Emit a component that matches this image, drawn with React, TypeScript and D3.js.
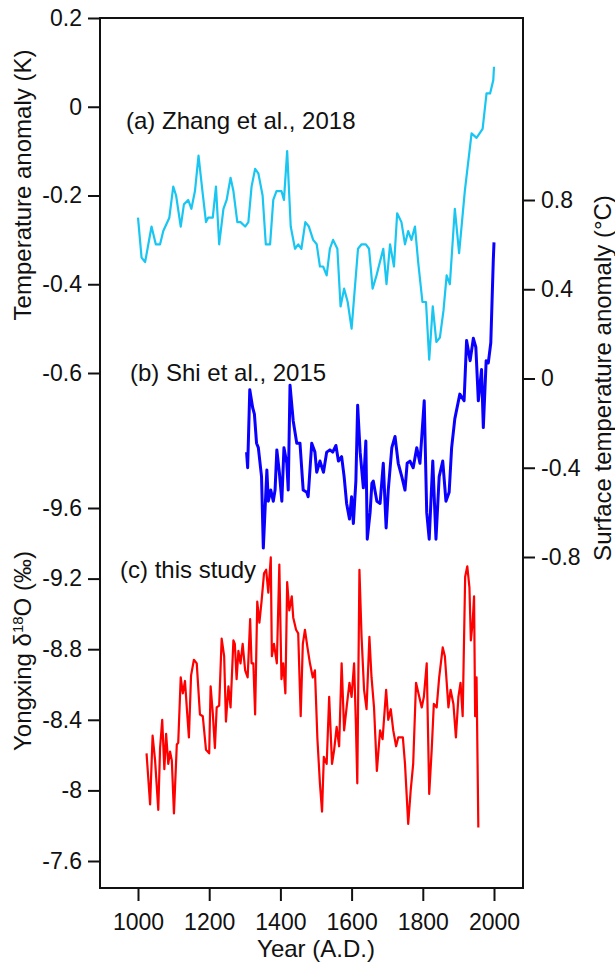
import { useEffect, useRef } from 'react'
import * as d3 from 'd3'

// (a) Zhang et al., 2018 — temperature anomaly (K), left upper axis
const zhang2018: [number, number][] = [
  [1000, -0.25], [1010, -0.34], [1020, -0.35], [1038, -0.27], [1050, -0.31], [1062, -0.31],
  [1071, -0.28], [1088, -0.25], [1099, -0.18], [1107, -0.2], [1120, -0.27], [1129, -0.22],
  [1141, -0.21], [1150, -0.23], [1160, -0.19], [1170, -0.11], [1181, -0.19], [1191, -0.26],
  [1197, -0.25], [1210, -0.25], [1219, -0.18], [1228, -0.31], [1240, -0.23], [1249, -0.21],
  [1260, -0.16], [1268, -0.19], [1279, -0.26], [1288, -0.26], [1301, -0.27], [1310, -0.26],
  [1319, -0.18], [1329, -0.14], [1338, -0.15], [1350, -0.2], [1359, -0.31], [1371, -0.31],
  [1380, -0.21], [1389, -0.19], [1403, -0.19], [1410, -0.21], [1419, -0.1], [1429, -0.27],
  [1441, -0.32], [1450, -0.31], [1459, -0.32], [1470, -0.26], [1480, -0.27], [1492, -0.3],
  [1502, -0.31], [1511, -0.36], [1520, -0.36], [1530, -0.38], [1539, -0.32], [1548, -0.3],
  [1560, -0.32], [1569, -0.45], [1579, -0.41], [1589, -0.44], [1600, -0.5], [1618, -0.32],
  [1628, -0.31], [1640, -0.31], [1649, -0.32], [1659, -0.41], [1670, -0.38], [1689, -0.32],
  [1698, -0.4], [1708, -0.31], [1719, -0.36], [1728, -0.24], [1740, -0.26], [1750, -0.31],
  [1759, -0.28], [1768, -0.3], [1778, -0.27], [1787, -0.35], [1799, -0.44], [1809, -0.44],
  [1818, -0.57], [1828, -0.45], [1838, -0.53], [1848, -0.52], [1858, -0.46], [1867, -0.38],
  [1876, -0.4], [1890, -0.23], [1902, -0.33], [1918, -0.19], [1937, -0.06], [1951, -0.07],
  [1968, -0.05], [1979, 0.03], [1989, 0.03], [1998, 0.06], [2000, 0.09],
]

// (b) Shi et al., 2015 — surface temperature anomaly (°C), right axis
const shi2015: [number, number][] = [
  [1305, -0.33], [1308, -0.4], [1314, -0.05], [1322, -0.13], [1327, -0.16], [1333, -0.29],
  [1338, -0.31], [1347, -0.44], [1352, -0.76], [1362, -0.41], [1366, -0.55], [1373, -0.5],
  [1380, -0.55], [1385, -0.5], [1390, -0.32], [1397, -0.42], [1404, -0.55], [1410, -0.31],
  [1418, -0.38], [1422, -0.5], [1427, -0.03], [1436, -0.19], [1446, -0.29], [1455, -0.29],
  [1464, -0.5], [1474, -0.51], [1478, -0.53], [1488, -0.29], [1497, -0.33], [1502, -0.42],
  [1511, -0.37], [1521, -0.42], [1530, -0.33], [1539, -0.32], [1547, -0.33], [1556, -0.3],
  [1563, -0.37], [1572, -0.35], [1579, -0.44], [1586, -0.56], [1594, -0.63], [1600, -0.53],
  [1605, -0.65], [1612, -0.46], [1617, -0.12], [1624, -0.33], [1633, -0.49], [1640, -0.28],
  [1644, -0.72], [1652, -0.6], [1657, -0.47], [1661, -0.46], [1671, -0.55], [1680, -0.56],
  [1689, -0.38], [1697, -0.67], [1703, -0.5], [1713, -0.31], [1722, -0.26], [1731, -0.38],
  [1741, -0.44], [1750, -0.5], [1756, -0.38], [1764, -0.37], [1773, -0.4], [1783, -0.31],
  [1792, -0.38], [1804, -0.1], [1811, -0.6], [1818, -0.72], [1828, -0.37], [1837, -0.72],
  [1846, -0.44], [1856, -0.37], [1865, -0.55], [1874, -0.51], [1881, -0.31], [1890, -0.18],
  [1904, -0.07], [1916, -0.1], [1923, 0.17], [1933, 0.08], [1942, 0.18], [1949, 0.14],
  [1956, -0.1], [1965, 0.04], [1970, -0.22], [1978, 0.08], [1984, 0.07], [1991, 0.16],
  [1998, 0.53], [2000, 0.61],
]

// (c) this study — Yongxing d18O (permil), left lower axis (reversed)
const yongxing: [number, number][] = [
  [1024, -8.21], [1034, -7.92], [1041, -8.31], [1048, -8.17], [1057, -7.89], [1062, -8.24],
  [1068, -8.4], [1074, -8.12], [1079, -8.32], [1085, -8.15], [1090, -8.22], [1095, -8.17],
  [1101, -7.87], [1109, -8.26], [1113, -8.27], [1120, -8.64], [1126, -8.55], [1132, -8.62],
  [1137, -8.47], [1143, -8.3], [1149, -8.65], [1157, -8.74], [1165, -8.72], [1174, -8.43],
  [1182, -8.42], [1191, -8.23], [1200, -8.21], [1204, -8.59], [1210, -8.44], [1216, -8.24],
  [1221, -8.47], [1228, -8.48], [1235, -8.86], [1242, -8.76], [1247, -8.39], [1254, -8.59],
  [1260, -8.47], [1268, -8.85], [1272, -8.83], [1277, -8.63], [1282, -8.79], [1288, -8.72],
  [1294, -8.83], [1301, -8.68], [1308, -8.64], [1315, -8.97], [1319, -8.72], [1324, -8.72],
  [1329, -8.43], [1335, -9.07], [1341, -8.95], [1347, -9.07], [1354, -9.23], [1360, -9.25],
  [1366, -9.12], [1373, -9.32], [1376, -8.76], [1382, -8.83], [1390, -8.72], [1397, -9.28],
  [1403, -8.63], [1408, -8.72], [1414, -8.55], [1419, -9.18], [1425, -9.02], [1432, -9.1],
  [1436, -8.98], [1444, -8.91], [1450, -8.89], [1457, -8.42], [1463, -8.83], [1469, -8.91],
  [1476, -8.81], [1483, -8.72], [1491, -8.64], [1497, -8.68], [1504, -8.29], [1511, -8.04],
  [1517, -7.88], [1522, -8.19], [1530, -8.15], [1537, -8.53], [1545, -8.15], [1551, -8.23],
  [1558, -8.36], [1565, -8.25], [1572, -8.72], [1579, -8.34], [1586, -8.47], [1594, -8.61],
  [1600, -8.53], [1607, -8.72], [1612, -8.38], [1616, -8.04], [1622, -9.25], [1628, -8.87],
  [1635, -8.57], [1642, -8.46], [1650, -8.87], [1656, -8.64], [1663, -8.47], [1671, -8.11],
  [1680, -8.34], [1687, -8.29], [1697, -8.57], [1703, -8.4], [1710, -8.46], [1717, -8.34],
  [1725, -8.25], [1731, -8.3], [1744, -8.3], [1750, -8.15], [1759, -7.81], [1766, -8.0],
  [1773, -8.15], [1781, -8.61], [1790, -8.53], [1797, -8.47], [1803, -8.53], [1811, -8.72],
  [1818, -7.98], [1825, -8.23], [1831, -8.49], [1839, -8.47], [1846, -8.64], [1856, -8.81],
  [1862, -8.76], [1872, -8.47], [1878, -8.57], [1886, -8.49], [1893, -8.3], [1900, -8.53],
  [1906, -8.61], [1912, -8.42], [1919, -9.21], [1925, -9.27], [1931, -9.15], [1935, -8.85],
  [1940, -8.95], [1944, -9.1], [1947, -8.42], [1951, -8.64], [1956, -7.79],
]

const yearTicks = [1000, 1200, 1400, 1600, 1800, 2000]
const zhangTicks = [0.2, 0, -0.2, -0.4, -0.6]
const shiTicks = [0.8, 0.4, 0, -0.4, -0.8]
const d18OTicks = [-9.6, -9.2, -8.8, -8.4, -8, -7.6]

const FONT = '"Liberation Sans", Arial, sans-serif'

export default function App() {
  const svgRef = useRef<SVGSVGElement | null>(null)

  useEffect(() => {
    if (!svgRef.current) return
    const svg = d3.select(svgRef.current)
    svg.selectAll('*').remove()

    const width = 615
    const height = 965
    const left = 100
    const right = 523
    const top = 18
    const bottom = 888

    svg.attr('width', width).attr('height', height)

    // Scales
    const x = d3.scaleLinear().domain([1000, 2000]).range([138, 494])
    const yZhang = d3.scaleLinear().domain([-0.6, 0.2]).range([373, 18])
    const yShi = d3.scaleLinear().domain([-0.8, 0.8]).range([557, 200])
    const yD18O = d3.scaleLinear().domain([-9.6, -7.6]).range([508, 861])

    const fmt = (d: d3.NumberValue) => String(d)

    // Series
    const drawLine = (data: [number, number][], y: d3.ScaleLinear<number, number>, color: string, w: number) => {
      const line = d3.line<[number, number]>()
        .x(d => x(d[0]))
        .y(d => y(d[1]))
      svg.append('path')
        .datum(data)
        .attr('fill', 'none')
        .attr('stroke', color)
        .attr('stroke-width', w)
        .attr('stroke-linejoin', 'round')
        .attr('d', line)
    }

    drawLine(zhang2018, yZhang, '#19c6f2', 2.2)
    drawLine(shi2015, yShi, '#0a00ff', 3)
    drawLine(yongxing, yD18O, '#ff0000', 2.2)

    // Frame
    svg.append('rect')
      .attr('x', left)
      .attr('y', top)
      .attr('width', right - left)
      .attr('height', bottom - top)
      .attr('fill', 'none')
      .attr('stroke', '#111')
      .attr('stroke-width', 2)

    const styleAxis = (g: d3.Selection<SVGGElement, unknown, null, undefined>) => {
      g.select('.domain').remove()
      g.selectAll('line').attr('stroke', '#111').attr('stroke-width', 2)
      g.selectAll('text')
        .attr('fill', '#111')
        .style('font-family', FONT)
        .style('font-size', '23px')
    }

    // Axes
    svg.append('g')
      .attr('transform', `translate(${left},0)`)
      .call(d3.axisLeft(yZhang).tickValues(zhangTicks).tickFormat(fmt).tickSize(12).tickPadding(6))
      .call(styleAxis)

    svg.append('g')
      .attr('transform', `translate(${left},0)`)
      .call(d3.axisLeft(yD18O).tickValues(d18OTicks).tickFormat(fmt).tickSize(12).tickPadding(6))
      .call(styleAxis)

    svg.append('g')
      .attr('transform', `translate(${right},0)`)
      .call(d3.axisRight(yShi).tickValues(shiTicks).tickFormat(fmt).tickSize(12).tickPadding(6))
      .call(styleAxis)

    svg.append('g')
      .attr('transform', `translate(0,${bottom})`)
      .call(d3.axisBottom(x).tickValues(yearTicks).tickFormat(fmt).tickSize(13).tickPadding(13))
      .call(styleAxis)

    // Axis titles
    const title = (tx: number, ty: number, rot: number) =>
      svg.append('text')
        .attr('transform', `translate(${tx},${ty}) rotate(${rot})`)
        .attr('text-anchor', 'middle')
        .attr('fill', '#111')
        .style('font-family', FONT)
        .style('font-size', '24px')

    title(31, 185, -90).text('Temperature anomaly (K)')

    const yx = title(31, 651, -90)
    yx.append('tspan').text('Yongxing δ')
    yx.append('tspan').attr('dy', -8).style('font-size', '15px').text('18')
    yx.append('tspan').attr('dy', 8).text('O (‰)')

    title(611, 378, -90).text('Surface temperature anomaly (°C)')
    title(316, 957, 0).text('Year (A.D.)')

    // Panel labels
    const label = (tx: number, ty: number, s: string) =>
      svg.append('text')
        .attr('x', tx)
        .attr('y', ty)
        .attr('fill', '#111')
        .style('font-family', FONT)
        .style('font-size', '24px')
        .text(s)

    label(126, 129, '(a) Zhang et al., 2018')
    label(130, 381, '(b) Shi et al., 2015')
    label(120, 578, '(c) this study')
  }, [])

  return (
    <div style={{ position: 'absolute', left: 0, top: 0 }}>
      <svg ref={svgRef} style={{ display: 'block', background: '#fff' }}></svg>
    </div>
  )
}
